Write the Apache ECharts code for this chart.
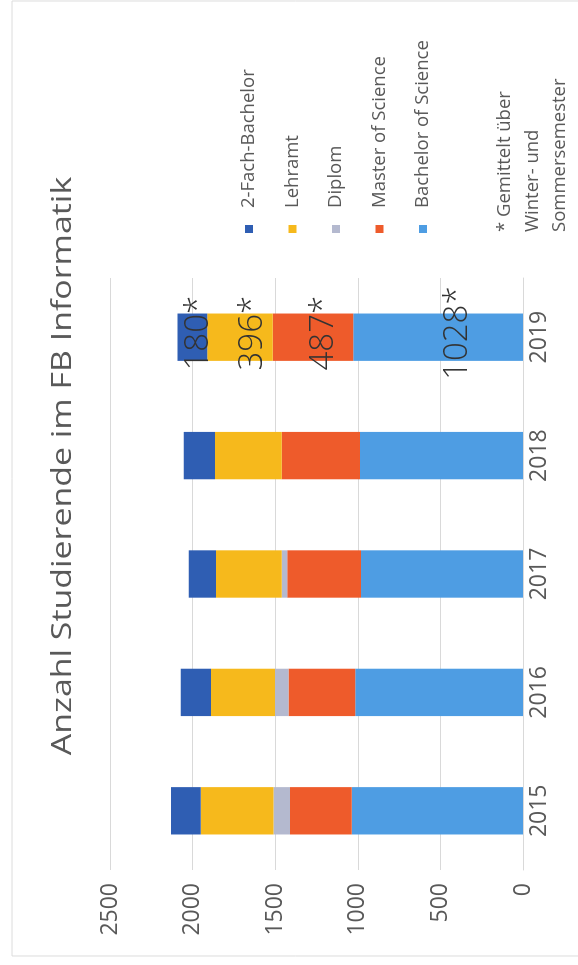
<!DOCTYPE html>
<html>
<head>
<meta charset="utf-8">
<script src="https://cdn.jsdelivr.net/npm/echarts@6/dist/echarts.min.js"></script>
<style>
html,body{margin:0;padding:0;background:#fff;overflow:hidden;width:578px;height:965px;}
#c{position:absolute;left:0;top:0;width:965px;height:578px;transform-origin:0 0;transform:translate(0px,965px) rotate(-90deg);}
</style>
</head>
<body>
<div id="c"></div>
<script>
const categories = ['2015', '2016', '2017', '2018', '2019'];
const bachelorScience = [1036, 1016, 980, 986, 1028];
const masterScience = [374, 404, 447, 475, 487];
const diplom = [101, 81, 34, 0, 0];
const lehramt = [440, 388, 398, 404, 396];
const zweiFachBachelor = [180, 182, 164, 188, 180];
const valueTicks = [0, 500, 1000, 1500, 2000, 2500];
const titleText = 'Anzahl Studierende im FB Informatik';
const footnoteLines = ['* Gemittelt über', 'Winter- und', 'Sommersemester'];
const legendNames = ['2-Fach-Bachelor', 'Lehramt', 'Diplom', 'Master of Science', 'Bachelor of Science'];

const chart = echarts.init(document.getElementById('c'));
const FONT = '"Open Sans", Lato, sans-serif';
const labelIdx = categories.length - 1;

function mk(name, arr, color, offsetY) {
  return {
    name: name,
    type: 'bar',
    stack: 'total',
    barWidth: '40%',
    itemStyle: { color: color },
    label: {
      show: false,
      position: 'inside',
      formatter: p => p.value + '*',
      fontFamily: '"Open Sans", "Liberation Sans", sans-serif',
      fontWeight: 300,
      fontSize: 33,
      color: '#333',
      offset: [4, offsetY]
    },
    data: arr.map((v, i) => (i === labelIdx && v > 0) ? { value: v, label: { show: true } } : v)
  };
}

chart.setOption({
  backgroundColor: '#fff',
  animation: false,
  grid: { left: 95, top: 110, width: 592, height: 413, containLabel: false },
  legend: {
    orient: 'vertical',
    left: 727,
    top: 234,
    itemWidth: 8,
    itemHeight: 8,
    itemGap: 23.5,
    icon: 'rect',
    data: legendNames,
    textStyle: { fontFamily: FONT, fontSize: 18.5, color: '#595959', lineHeight: 20, padding: [0, 0, 0, 12] }
  },
  xAxis: {
    type: 'category',
    data: categories,
    axisLine: { show: true, lineStyle: { color: '#d9d9d9' } },
    axisTick: { show: false },
    axisLabel: { fontFamily: FONT, fontSize: 23, color: '#595959', margin: 5 }
  },
  yAxis: {
    type: 'value',
    min: valueTicks[0],
    max: valueTicks[valueTicks.length - 1],
    interval: valueTicks[1] - valueTicks[0],
    axisLine: { show: false },
    axisTick: { show: false },
    splitLine: { lineStyle: { color: '#d9d9d9', width: 1 } },
    axisLabel: { fontFamily: FONT, fontSize: 23, color: '#595959', margin: 13, formatter: v => String(v) }
  },
  graphic: [
    {
      type: 'rect', silent: true, z: -1,
      shape: { x: 9, y: 12, width: 955, height: 600 },
      style: { fill: 'none', stroke: '#dcdcdc', lineWidth: 1 }
    },
    {
      type: 'text', silent: true,
      x: 499, y: 63, scaleX: 1.21, scaleY: 1,
      style: {
        text: titleText,
        fontFamily: FONT, fontSize: 28, fill: '#595959',
        textAlign: 'center', textVerticalAlign: 'middle'
      }
    },
    {
      type: 'text', silent: true,
      x: 733, y: 491,
      style: {
        text: footnoteLines.join('\n'),
        fontFamily: FONT, fontSize: 18.5, fill: '#595959',
        lineHeight: 27.5, textAlign: 'left', textVerticalAlign: 'top'
      }
    }
  ],
  series: [
    mk('Bachelor of Science', bachelorScience, '#4E9DE3', 20),
    mk('Master of Science', masterScience, '#EE5B2B', 11),
    mk('Diplom', diplom, '#B4B9CF', 0),
    mk('Lehramt', lehramt, '#F6B91C', 13),
    mk('2-Fach-Bachelor', zweiFachBachelor, '#2F5EB3', 6)
  ]
});
</script>
</body>
</html>
